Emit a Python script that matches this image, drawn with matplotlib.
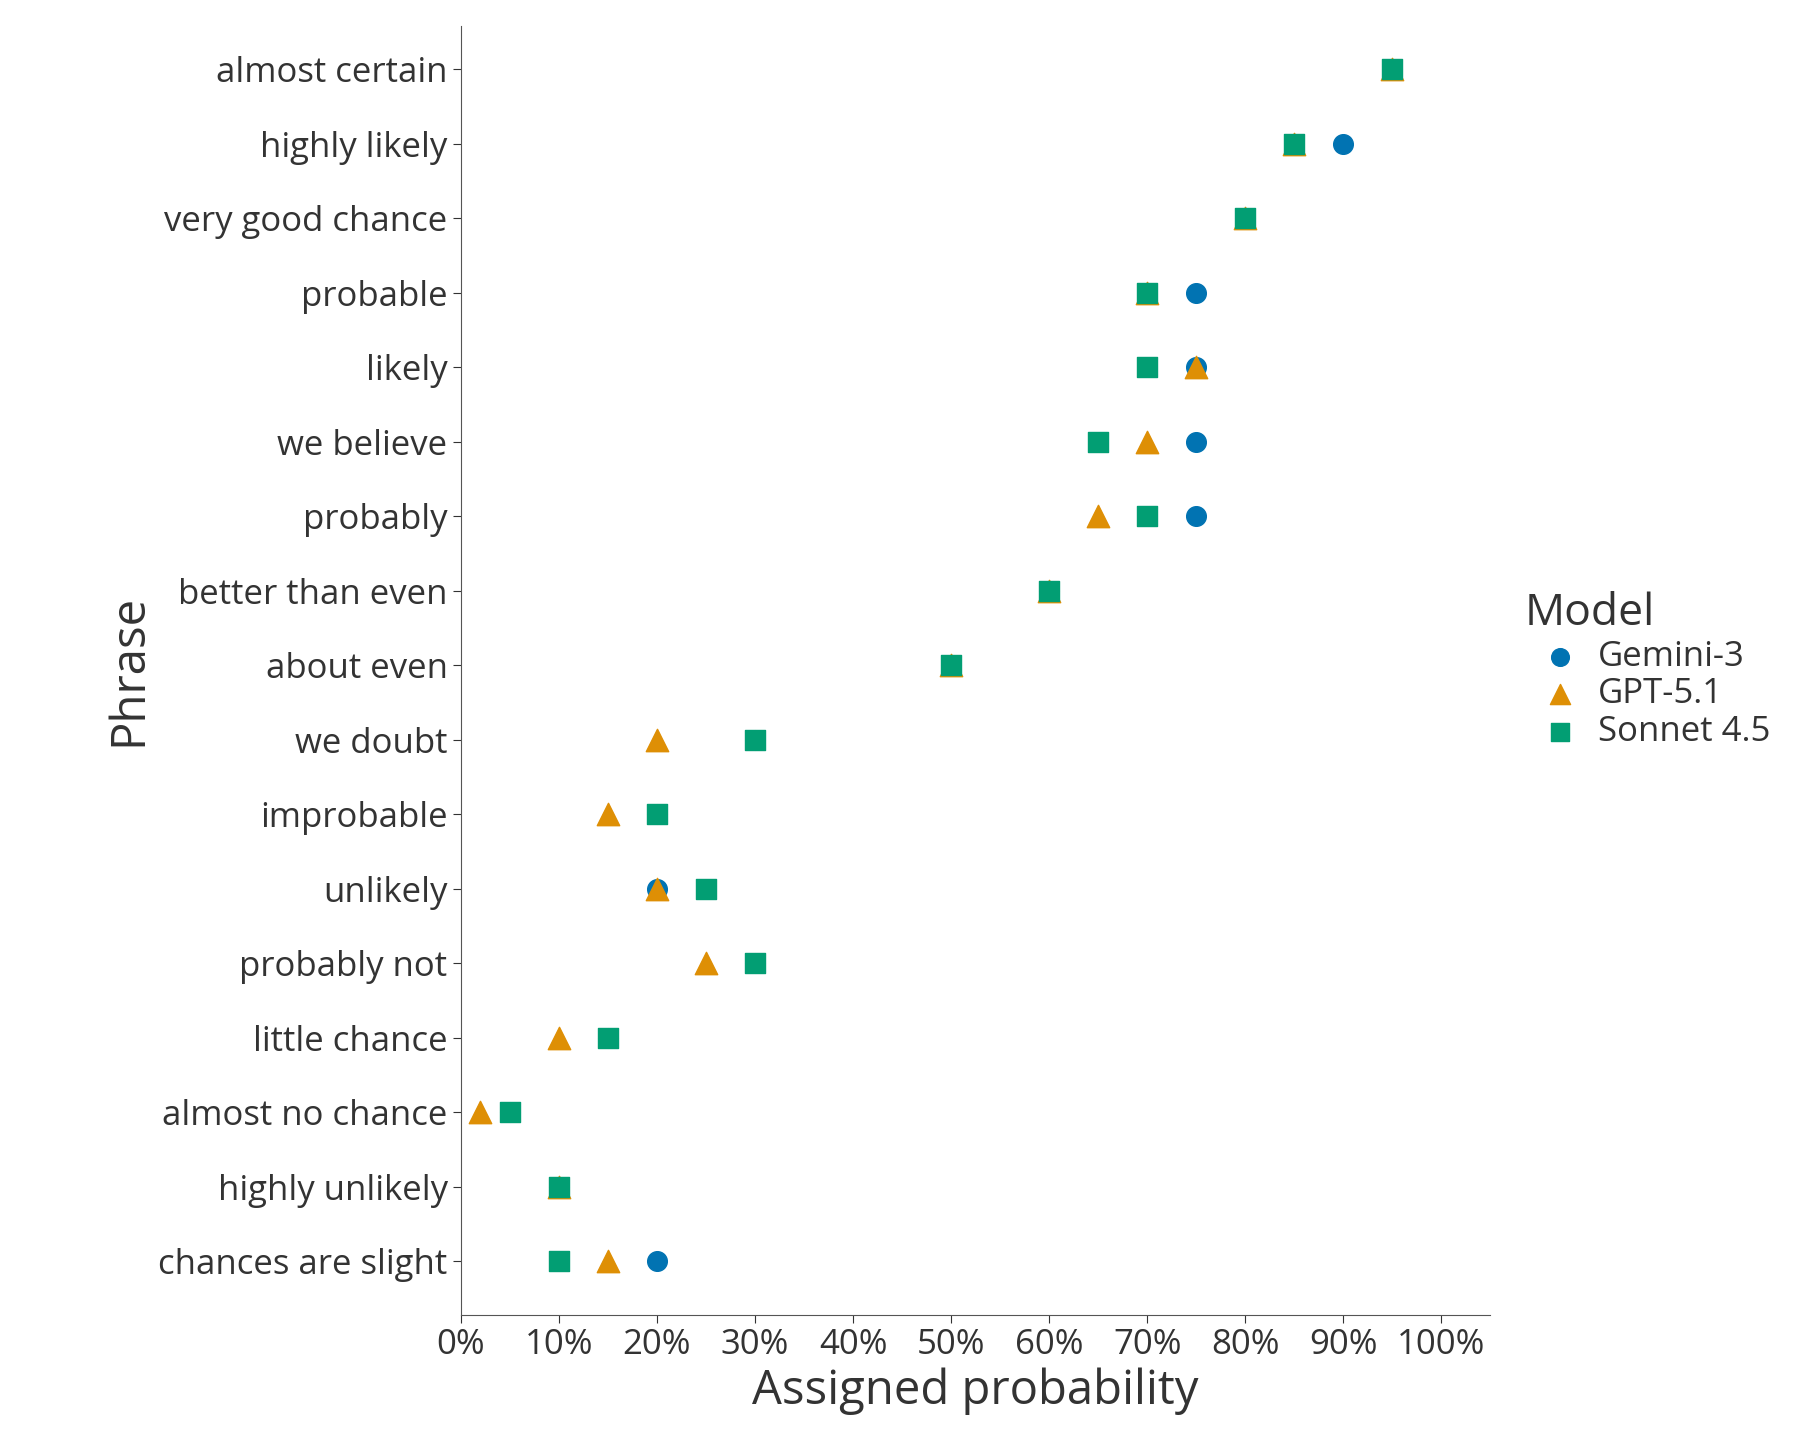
import matplotlib.pyplot as plt
from matplotlib.ticker import PercentFormatter

phrases = ["almost certain", "highly likely", "very good chance", "probable", "likely",
           "we believe", "probably", "better than even", "about even", "we doubt",
           "improbable", "unlikely", "probably not", "little chance", "almost no chance",
           "highly unlikely", "chances are slight"]
gemini = [95, 90, 80, 75, 75, 75, 75, 60, 50, 30, 20, 20, 30, 15, 5, 10, 20]
gpt = [95, 85, 80, 70, 75, 70, 65, 60, 50, 20, 15, 20, 25, 10, 2, 10, 15]
sonnet = [95, 85, 80, 70, 70, 65, 70, 60, 50, 30, 20, 25, 30, 15, 5, 10, 10]

plt.rcParams['font.family'] = ['Open Sans', 'DejaVu Sans']
fig = plt.figure(figsize=(18, 14.4), dpi=100)
ax = fig.add_axes([0.256, 0.087, 0.572, 0.895])
ypos = list(range(len(phrases)))

# draw order so the circle hides under the others where they coincide
ax.scatter(gpt, ypos, marker='^', s=260, color='#de8f05', label='GPT-5.1', zorder=3)
ax.scatter(gemini, ypos, marker='o', s=200, color='#0173b2', label='Gemini-3', zorder=2)
ax.scatter(sonnet, ypos, marker='s', s=200, color='#029e73', label='Sonnet 4.5', zorder=4)

ax.set_ylim(len(phrases) - 1 + 0.72, -0.58)
ax.set_yticks(ypos)
ax.set_yticklabels(phrases)
ax.set_xlim(0, 105)
ax.set_xticks(range(0, 101, 10))
ax.xaxis.set_major_formatter(PercentFormatter(decimals=0))
ax.tick_params(labelsize=25, colors='#333333', length=6)
ax.spines[['top', 'right']].set_visible(False)
for s in ['left', 'bottom']:
    ax.spines[s].set_color('#555555')
ax.set_xlabel('Assigned probability', fontsize=34, color='#333333')
ax.set_ylabel('Phrase', fontsize=34, color='#333333')

h, l = ax.get_legend_handles_labels()
order = [1, 0, 2]
leg = ax.legend([h[i] for i in order], [l[i] for i in order], title='Model',
                loc='center left', bbox_to_anchor=(1.02, 0.5), frameon=False,
                fontsize=25, title_fontsize=32, handletextpad=0.1, borderaxespad=0,
                labelspacing=0.1, markerscale=0.9)
leg._legend_box.align = 'left'
for t in leg.get_texts():
    t.set_color('#333333')
leg.get_title().set_color('#333333')

fig.savefig('out.png')
